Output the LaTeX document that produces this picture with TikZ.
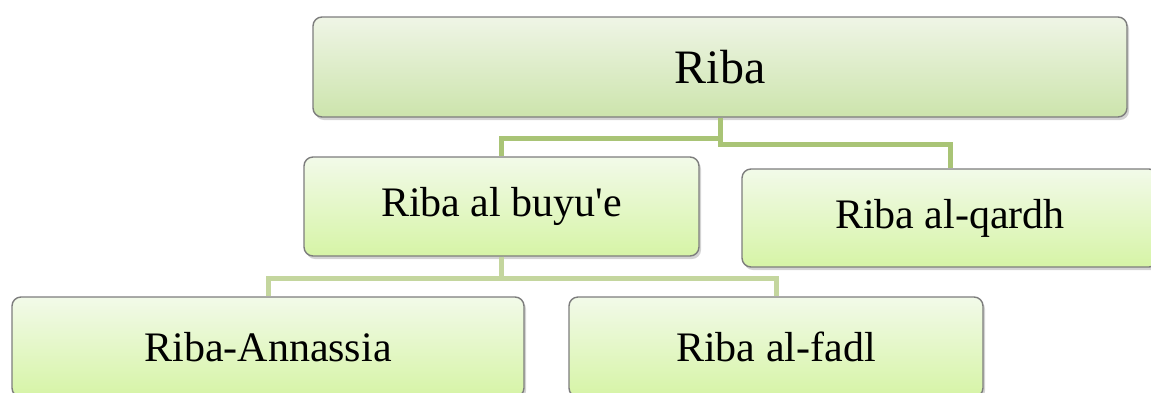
\documentclass[tikz,border=0pt]{standalone}
\usepackage{fontspec}
\setmainfont{Liberation Serif}
\usetikzlibrary{shadows}
\definecolor{topA}{RGB}{239,245,230}
\definecolor{botA}{RGB}{204,228,172}
\definecolor{topB}{RGB}{242,250,233}
\definecolor{botB}{RGB}{214,244,166}
\definecolor{lineA}{RGB}{169,196,118}
\definecolor{lineB}{RGB}{196,214,158}
\definecolor{edge}{RGB}{125,125,125}
\tikzset{
  box/.style={draw=edge, line width=1.4pt, rounded corners=9pt, inner sep=0pt,
    drop shadow={opacity=0.35, shadow xshift=2pt, shadow yshift=-3pt},
    font=\fontsize{42}{48}\selectfont},
  boxA/.style={box, top color=topA, bottom color=botA},
  boxB/.style={box, top color=topB, bottom color=botB},
  linkA/.style={draw=lineA, line width=5pt},
  linkB/.style={draw=lineB, line width=5pt},
}
\begin{document}
\begin{tikzpicture}[x=1pt,y=-1pt]
\useasboundingbox (0,0) rectangle (1151,392);
\clip (0,0) rectangle (1151,392);
\node[boxA, minimum width=814pt, minimum height=100pt, font=\fontsize{48}{54}\selectfont] (riba) at (720,67) {Riba};
\node[boxB, minimum width=395pt, minimum height=99pt] (buyu) at (501.5,206.5) {Riba al buyu\textquotesingle e};
\node[boxB, minimum width=416pt, minimum height=98pt] (qardh) at (950,218) {Riba al-qardh};
\node[boxB, minimum width=512pt, minimum height=100pt] (annas) at (268,347) {Riba-Annassia};
\node[boxB, minimum width=414pt, minimum height=100pt] (fadl) at (776,347) {Riba al-fadl};
\draw[linkA] (riba.south) -- (riba.south |- 0,138.5) -| (buyu.north);
\draw[linkA] (riba.south) -- (riba.south |- 0,144.5) -| (qardh.north);
\draw[linkB] (buyu.south) -- (buyu.south |- 0,278) -| (annas.north);
\draw[linkB] (buyu.south) -- (buyu.south |- 0,278) -| (fadl.north);
\end{tikzpicture}
\end{document}
